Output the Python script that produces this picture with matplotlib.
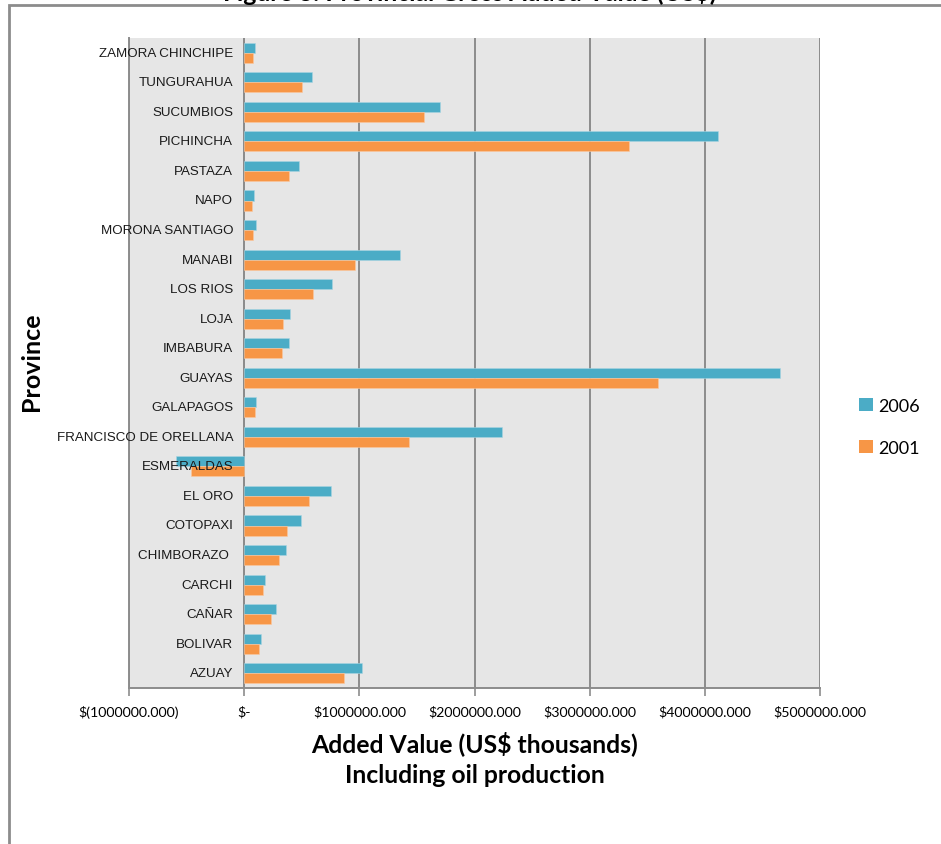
import matplotlib.pyplot as plt
import numpy as np
from matplotlib.patches import Rectangle, Patch

# Provinces, bottom to top as they appear on the category axis
provinces = ["AZUAY", "BOLIVAR", "CAÑAR", "CARCHI", "CHIMBORAZO ", "COTOPAXI",
             "EL ORO", "ESMERALDAS", "FRANCISCO DE ORELLANA", "GALAPAGOS",
             "GUAYAS", "IMBABURA", "LOJA", "LOS RIOS", "MANABI",
             "MORONA SANTIAGO", "NAPO", "PASTAZA", "PICHINCHA", "SUCUMBIOS",
             "TUNGURAHUA", "ZAMORA CHINCHIPE"]

# Added value in US$ thousands
va_2006 = [1020000, 150000, 280000, 180000, 360000, 490000,
           750000, -590000, 2240000, 100000,
           4650000, 390000, 400000, 760000, 1350000,
           100000, 87000, 480000, 4110000, 1700000,
           590000, 95000]
va_2001 = [870000, 130000, 230000, 160000, 300000, 370000,
           560000, -460000, 1430000, 95000,
           3590000, 330000, 340000, 600000, 960000,
           80000, 70000, 390000, 3340000, 1560000,
           500000, 80000]

xticks = [-1000000, 0, 1000000, 2000000, 3000000, 4000000, 5000000]
xtick_labels = ["$(1000000.000)", "$-", "$1000000.000", "$2000000.000",
                "$3000000.000", "$4000000.000", "$5000000.000"]

teal = "#4BACC6"
orange = "#F79646"
gray = "#8C8C8C"
calibri_like = ["Lato", "DejaVu Sans"]
arial_like = ["Liberation Sans", "DejaVu Sans"]

fig = plt.figure(figsize=(9.41, 8.45), dpi=100)
ax = fig.add_axes([129 / 941, 1 - 689 / 845, (820 - 129) / 941, (689 - 39) / 845])

y = np.arange(len(provinces))
h = 0.34
ax.barh(y + h / 2, va_2006, height=h, color=teal, edgecolor="#A9D6E3",
        linewidth=0.4, label="2006", zorder=3)
ax.barh(y - h / 2, va_2001, height=h, color=orange, edgecolor="#FBC9A1",
        linewidth=0.4, label="2001", zorder=3)

ax.set_facecolor("#E6E6E6")
ax.set_xlim(-1000000, 5000000)
ax.set_ylim(-0.5, len(provinces) - 0.5)
ax.set_xticks(xticks)
ax.set_xticklabels(xtick_labels, family=calibri_like, fontsize=10.2)
ax.tick_params(axis="x", length=6, width=1.2, color=gray, pad=6)
ax.set_yticks([])
ax.grid(axis="x", color=gray, linewidth=1.4, zorder=1)
ax.set_axisbelow(True)
for side in ["top", "right"]:
    ax.spines[side].set_visible(False)
ax.spines["bottom"].set_color(gray)
ax.spines["bottom"].set_linewidth(1.4)
ax.spines["left"].set_color(gray)
ax.spines["left"].set_linewidth(1.4)

# category axis sits at zero
ax.axvline(0, color=gray, linewidth=1.4, zorder=2)

# category labels hang next to the zero line
for yi, name in zip(y, provinces):
    ax.annotate(name, xy=(0, yi), xytext=(-8, 0), textcoords="offset points",
                ha="right", va="center", fontsize=9.6, family=arial_like,
                color="#1a1a1a", zorder=4)

fig.text(475 / 941, 1 - 744 / 845, "Added Value (US$ thousands)",
         ha="center", va="center", fontsize=17.8, fontweight="bold",
         family=calibri_like)
fig.text(475 / 941, 1 - 776 / 845, "Including oil production",
         ha="center", va="center", fontsize=17.8, fontweight="bold",
         family=calibri_like)
fig.text(32 / 941, 1 - 362 / 845, "Province", rotation=90,
         ha="center", va="center", fontsize=18, fontweight="bold",
         family=calibri_like)

# title runs off the top edge, only its lower part stays on the page
fig.text(470 / 941, 1 - 1 / 845, "Figure 3: Provincial Gross Added Value (US$)",
         ha="center", va="baseline", fontsize=17.8, fontweight="bold",
         family=calibri_like)

handles = [Patch(facecolor=teal, edgecolor="none"),
           Patch(facecolor=orange, edgecolor="none")]
fig.legend(handles, ["2006", "2001"], loc="center left",
           bbox_to_anchor=(843 / 941, 1 - 428 / 845), frameon=False,
           prop={"family": calibri_like, "size": 13},
           handlelength=0.75, handleheight=0.75, handletextpad=0.3,
           labelspacing=1.45)

# chart frame
fig.patches.append(Rectangle((9 / 941, -0.1), 1.2, 1 - 6 / 845 + 0.1,
                             transform=fig.transFigure, fill=False,
                             edgecolor=gray, linewidth=2))

fig.savefig("out.png", dpi=100)
